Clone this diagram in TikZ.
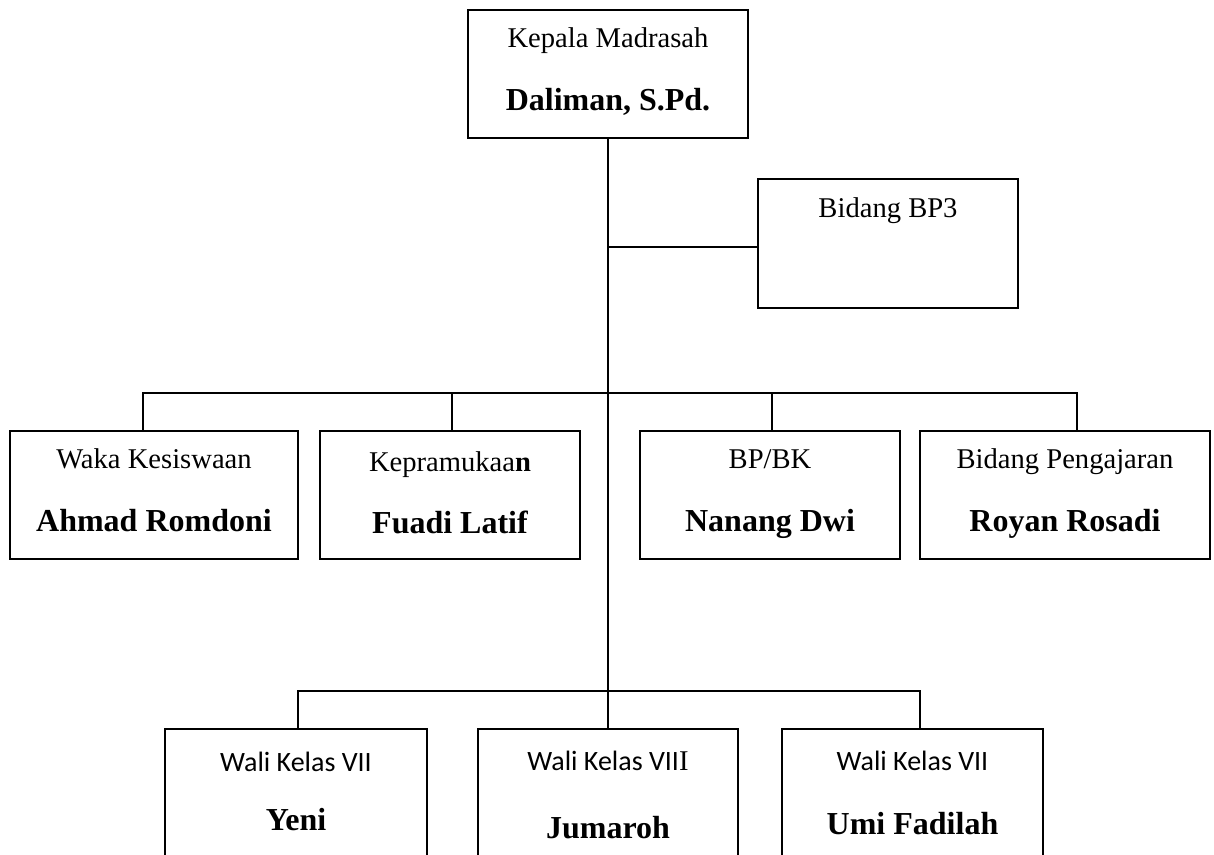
\documentclass[tikz,border=0pt]{standalone}
\usepackage{fontspec}
\setmainfont{Liberation Serif}
\newfontfamily\carlito{Carlito}
\begin{document}
\begin{tikzpicture}[x=1pt,y=-1pt,
  box/.style={draw,line width=1.6pt,rectangle,inner sep=0pt},
  lbl/.style={anchor=base,inner sep=0pt,font=\fontsize{28.6}{30}\selectfont},
  nm/.style={anchor=base,inner sep=0pt,font=\fontsize{32}{34}\selectfont\bfseries},
  wl/.style={anchor=base,inner sep=0pt,font=\fontsize{28}{30}\selectfont\carlito},
  conn/.style={line width=1.8pt}]
\clip (0,0) rectangle (1214,854);
% boxes
\node[box,minimum width=280pt,minimum height=128pt] (head) at (608,74) {};
\node[box,minimum width=260pt,minimum height=129pt] (bp3) at (888,243.5) {};
\node[box,minimum width=288pt,minimum height=128pt] (waka) at (154,495) {};
\node[box,minimum width=260pt,minimum height=128pt] (pram) at (450,495) {};
\node[box,minimum width=260pt,minimum height=128pt] (bpbk) at (770,495) {};
\node[box,minimum width=290pt,minimum height=128pt] (peng) at (1065,495) {};
\node[box,minimum width=262pt,minimum height=151pt] (yeni) at (296,804.5) {};
\node[box,minimum width=260pt,minimum height=151pt] (jum) at (608,804.5) {};
\node[box,minimum width=261pt,minimum height=151pt] (umi) at (912.5,804.5) {};
% texts
\node[lbl] (t1) at (608,47) {Kepala Madrasah};
\node[nm] (n1) at (608,110) {Daliman, S.Pd.};
\node[lbl] (t2) at (888,217) {Bidang BP3};
\node[lbl] (t3) at (154,468) {Waka Kesiswaan};
\node[nm] (n3) at (154,531) {Ahmad Romdoni};
\node[lbl] (t4) at (450,471) {Kepramukaa\textbf{n}};
\node[nm] (n4) at (450,533) {Fuadi Latif};
\node[lbl] (t5) at (770,468) {BP/BK};
\node[nm] (n5) at (770,531) {Nanang Dwi};
\node[lbl] (t6) at (1065,468) {Bidang Pengajaran};
\node[nm] (n6) at (1065,531) {Royan Rosadi};
\node[wl] (t7) at (296,771) {Wali Kelas VII};
\node[nm] (n7) at (296,830) {Yeni};
\node[wl] (t8) at (608,770) {Wali Kelas VII{\rmfamily\fontsize{28.6}{30}\selectfont I}};
\node[nm] (n8) at (608,838) {Jumaroh};
\node[wl] (t9) at (912.5,770) {Wali Kelas VII};
\node[nm] (n9) at (912.5,834) {Umi Fadilah};
% connector coordinates
\coordinate (j1) at (608,247);
\coordinate (j2) at (608,393);
\coordinate (j3) at (608,691);
\coordinate (c1) at (143,393);
\coordinate (c2) at (452,393);
\coordinate (c3) at (772,393);
\coordinate (c4) at (1077,393);
\coordinate (d1) at (298,691);
\coordinate (d3) at (920,691);
% connectors
\draw[conn] (head.south) -- (j3);
\draw[conn] (j1) -- (j1 -| bp3.west);
\draw[conn] (c1 |- waka.north) -- (c1) -- (c4) -- (c4 |- peng.north);
\draw[conn] (c2) -- (c2 |- pram.north);
\draw[conn] (c3) -- (c3 |- bpbk.north);
\draw[conn] (d1 |- yeni.north) -- (d1) -- (d3) -- (d3 |- umi.north);
\draw[conn] (j3) -- (jum.north);
\end{tikzpicture}
\end{document}
